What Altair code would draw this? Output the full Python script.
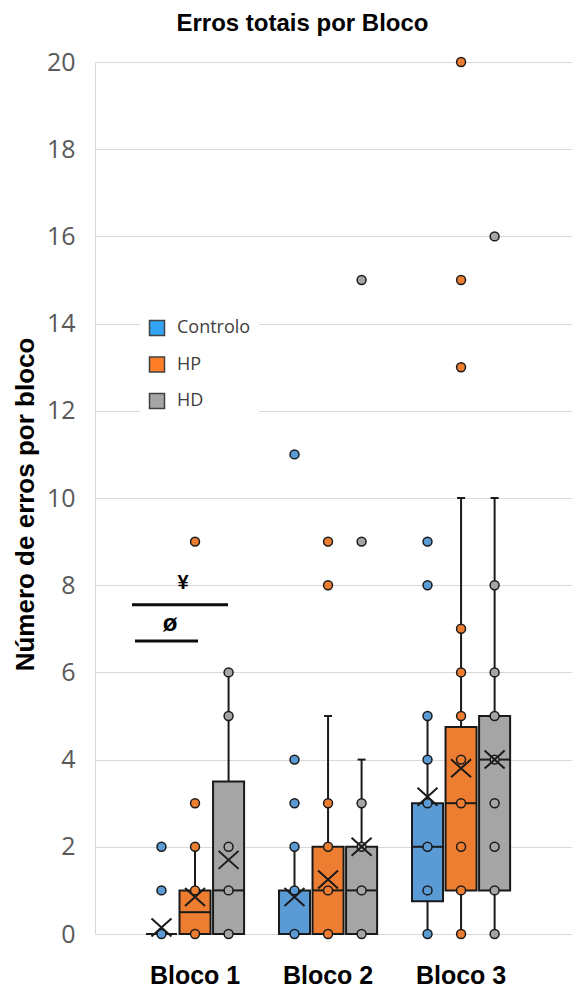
import altair as alt
import pandas as pd

blocos = ["Bloco 1", "Bloco 2", "Bloco 3"]
grupos = ["Controlo", "HP", "HD"]

# box statistics, order: Bloco 1 (Controlo, HP, HD), Bloco 2 (...), Bloco 3 (...)
q1 = [0, 0, 0, 0, 0, 0, 0.75, 1, 1]
mediana = [0, 0.5, 1, 0, 1, 1, 2, 3, 4]
q3 = [0, 1, 3.5, 1, 2, 2, 3, 4.75, 5]
bigode_min = [0, 0, 0, 0, 0, 0, 0, 0, 0]
bigode_max = [0, 2, 6, 2, 5, 4, 5, 10, 10]
media = [0.15, 0.85, 1.7, 0.85, 1.25, 2.0, 3.15, 3.8, 4.0]
pontos = [
    [0, 1, 2],
    [0, 1, 2, 3, 9],
    [0, 1, 2, 5, 6],
    [0, 1, 2, 3, 4, 11],
    [0, 1, 2, 3, 8, 9],
    [0, 1, 2, 3, 9, 15],
    [0, 1, 2, 3, 4, 5, 8, 9],
    [0, 1, 2, 3, 4, 5, 6, 7, 13, 15, 20],
    [0, 1, 2, 3, 4, 5, 6, 8, 16],
]

cores_caixa = ["#5B9BD5", "#ED7D31", "#A5A5A5"]
cores_legenda = ["#33A3F4", "#FF7F27", "#A5A5A5"]

# significance annotations (y in data units)
sig_y_linhas = [7.55, 6.72]
sig_textos = ["¥", "ø"]
sig_y_textos = [8.05, 7.1]

rows = []
prow = []
i = 0
for b in blocos:
    for g in grupos:
        rows.append(dict(bloco=b, grupo=g, q1=q1[i], med=mediana[i], q3=q3[i],
                         bmin=bigode_min[i], bmax=bigode_max[i], media=media[i]))
        for v in pontos[i]:
            prow.append(dict(bloco=b, grupo=g, valor=v))
        i += 1
stats = pd.DataFrame(rows)
pts = pd.DataFrame(prow)

INK = "#1A1A1A"

x = alt.X("bloco:N",
          scale=alt.Scale(domain=blocos, paddingInner=0, paddingOuter=0.293, align=0.43),
          axis=alt.Axis(title=None, labelAngle=0, labelFont="Liberation Sans", labelFontSize=25,
                        labelFontWeight="bold", labelColor="black", ticks=False, tickSize=0,
                        labelPadding=49, labelBaseline="alphabetic", domainColor="#D9D9D9",
                        domainWidth=1, grid=False))
xo = alt.XOffset("grupo:N", scale=alt.Scale(domain=grupos, paddingInner=0.075, paddingOuter=0.52))
yscale = alt.Scale(domain=[0, 20], nice=False, zero=True)
yaxis = alt.Axis(title="Número de erros por bloco", values=list(range(0, 21, 2)),
                 labelFont="Open Sans", labelFontSize=25, labelColor="#595959",
                 labelPadding=20, ticks=False, tickSize=0, domainColor="#D9D9D9",
                 gridColor="#D9D9D9", gridWidth=1,
                 titleFont="Liberation Sans", titleFontSize=26, titleFontWeight="bold",
                 titleColor="black", titleX=-62, titleY=442, titleAngle=-90,
                 titleBaseline="alphabetic", titleAlign="center")


def Y(field):
    return alt.Y(field, scale=yscale, axis=yaxis, title="Número de erros por bloco")


cor = alt.Color("grupo:N", scale=alt.Scale(domain=grupos, range=cores_caixa), legend=None)

base = alt.Chart(stats)

legenda = base.mark_square(opacity=0.01, size=10).encode(
    x=x, xOffset=xo, y=Y("q1:Q"),
    fill=alt.Fill("grupo:N", scale=alt.Scale(domain=grupos, range=cores_legenda),
                  legend=alt.Legend(title=None, orient="none", legendX=45, legendY=249,
                                    fillColor="white", padding=8, symbolType="square",
                                    symbolSize=225, symbolStrokeColor="#404040",
                                    symbolStrokeWidth=1.5, symbolOpacity=1,
                                    labelFont="Open Sans", labelFontSize=18,
                                    labelColor="#404040", rowPadding=14.5, labelOffset=11)))

caixas = base.mark_bar(stroke=INK, strokeWidth=2).encode(
    x=x, xOffset=xo, y=Y("q1:Q"), y2="q3:Q", color=cor)

medianas = base.mark_tick(size=31, thickness=2, color=INK, opacity=1).encode(
    x=x, xOffset=xo, y=Y("med:Q"))

bigode_sup = base.mark_rule(strokeWidth=2, color=INK).encode(
    x=x, xOffset=xo, y=Y("q3:Q"), y2="bmax:Q"
).transform_filter("datum.bmax > datum.q3")

bigode_inf = base.mark_rule(strokeWidth=2, color=INK).encode(
    x=x, xOffset=xo, y=Y("bmin:Q"), y2="q1:Q"
).transform_filter("datum.q1 > datum.bmin")

cap_sup = base.mark_tick(size=8, thickness=2, color=INK, opacity=1).encode(
    x=x, xOffset=xo, y=Y("bmax:Q")
).transform_filter("datum.bmax > datum.q3")

cap_inf = base.mark_tick(size=8, thickness=2, color=INK, opacity=1).encode(
    x=x, xOffset=xo, y=Y("bmin:Q")
).transform_filter("datum.q1 > datum.bmin")

pontos_l = alt.Chart(pts).mark_point(filled=True, size=80, stroke=INK, strokeWidth=1.5,
                                     opacity=1).encode(
    x=x, xOffset=xo, y=Y("valor:Q"), color=cor)

medias = base.mark_point(shape="M-1,-0.9L1,0.9M-1,0.9L1,-0.9", size=400, filled=False,
                         stroke=INK, strokeWidth=2, opacity=1).encode(
    x=x, xOffset=xo, y=Y("media:Q"))

sig = pd.DataFrame({"y": sig_y_linhas, "t": sig_textos, "yt": sig_y_textos})
linha1 = alt.Chart(sig.iloc[[0]]).mark_rule(strokeWidth=3, color="#0D0D0D").encode(
    x=alt.value(37), x2=alt.value(133), y=Y("y:Q"))
linha2 = alt.Chart(sig.iloc[[1]]).mark_rule(strokeWidth=3, color="#0D0D0D").encode(
    x=alt.value(40), x2=alt.value(103), y=Y("y:Q"))
texto1 = alt.Chart(sig.iloc[[0]]).mark_text(font="Liberation Sans", fontSize=20,
                                            fontWeight="bold", color="black",
                                            baseline="middle").encode(
    x=alt.value(88), y=Y("yt:Q"), text="t:N")
texto2 = alt.Chart(sig.iloc[[1]]).mark_text(font="Liberation Sans", fontSize=24,
                                            fontWeight="bold", color="black",
                                            baseline="middle").encode(
    x=alt.value(75), y=Y("yt:Q"), text="t:N")

chart = alt.layer(
    legenda, caixas, medianas, bigode_sup, bigode_inf, cap_sup, cap_inf, pontos_l, medias,
    linha1, linha2, texto1, texto2
).properties(
    width=477, height=872,
    padding={"left": 95, "top": 62, "right": 0, "bottom": 53},
    autosize=alt.AutoSizeParams(type="none"),
    title=alt.TitleParams("Erros totais por Bloco", font="Liberation Sans", fontSize=24,
                          fontWeight="bold", color="black", anchor="middle", frame="group",
                          dx=-31, offset=-5, baseline="alphabetic"),
).configure_view(stroke=None)

chart.save("out.html", embed_options={"renderer": "svg", "actions": False})
